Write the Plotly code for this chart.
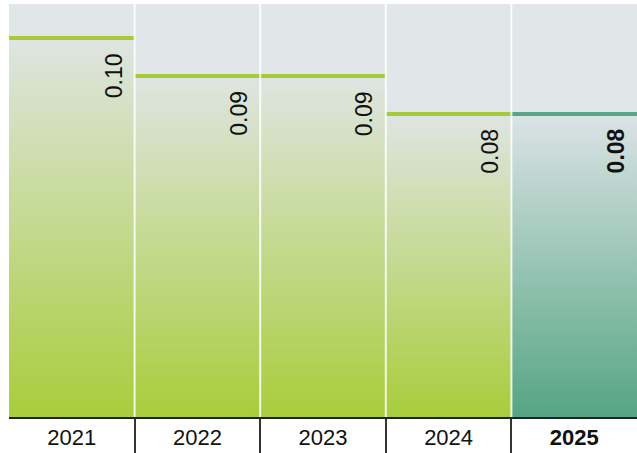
import plotly.graph_objects as go

years = ["2021", "2022", "2023", "2024", "2025"]
values = [0.10, 0.09, 0.09, 0.08, 0.08]
value_labels = ["0.10", "0.09", "0.09", "0.08", "0.08"]
highlight = [False, False, False, False, True]

GREEN = (168, 205, 60)
TEAL = (85, 165, 132)
BG = "#e1e6e9"

fig = go.Figure()
for i, (v, hl) in enumerate(zip(values, highlight)):
    r, g, b = TEAL if hl else GREEN
    line_col = "#57a687" if hl else "#a6cb3a"
    fig.add_trace(go.Scatter(
        x=[i - 0.5, i + 0.5], y=[v, v], mode="lines",
        line=dict(color=line_col, width=4),
        fill="tozeroy",
        fillgradient=dict(type="vertical", colorscale=[[0, f"rgba({r},{g},{b},1)"], [1, f"rgba({r},{g},{b},0.04)"]]),
        hoverinfo="skip", showlegend=False,
    ))
    txt = f"<b>{value_labels[i]}</b>" if hl else value_labels[i]
    fig.add_annotation(x=i + 0.5, y=v, xref="x", yref="y", text=txt, textangle=-90,
                       showarrow=False, xanchor="right", yanchor="top", xshift=-6, yshift=-13,
                       font=dict(family="Liberation Sans, Arial, sans-serif", size=23, color="#111111"))

boundaries = [i + 0.5 for i in range(len(years) - 1)]
for xb in boundaries:
    fig.add_shape(type="line", xref="x", yref="paper", x0=xb, x1=xb, y0=0, y1=1,
                  line=dict(color="rgba(255,255,255,0.85)", width=2), layer="above")

ticktext = [f"<b>{y}</b>" if hl else y for y, hl in zip(years, highlight)]
fig.update_layout(
    width=637, height=453,
    margin=dict(l=9, r=0, t=4, b=36),
    paper_bgcolor="white", plot_bgcolor=BG,
    font=dict(family="Liberation Sans, Arial, sans-serif", size=22, color="#111111"),
    xaxis=dict(
        range=[-0.5, 4.5], tickvals=list(range(len(years))), ticktext=ticktext,
        ticks="", showgrid=False, zeroline=False, showline=True, linecolor="#222222", linewidth=2,
        ticklabelstandoff=0,
        minor=dict(tickvals=boundaries, ticks="outside", ticklen=36, tickcolor="#333333", tickwidth=2, showgrid=False),
        fixedrange=True,
    ),
    yaxis=dict(range=[0, 0.109], visible=False, showgrid=False, zeroline=False, fixedrange=True),
)
fig.write_html("out.html", config={"displayModeBar": False},
               post_script="document.body.style.margin='0';document.body.style.overflow='hidden';")
